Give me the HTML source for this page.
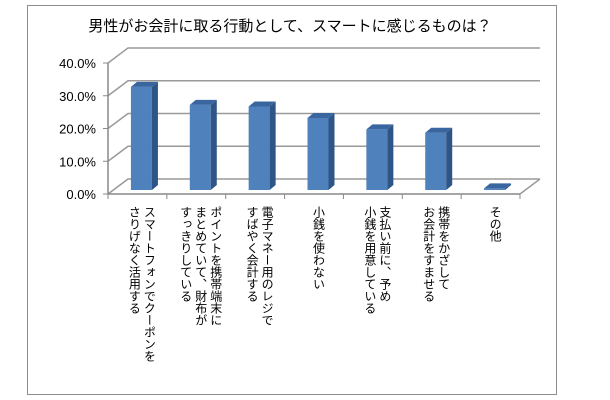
<!DOCTYPE html>
<html><head><meta charset="utf-8"><style>
body{margin:0;background:#fff;width:610px;height:400px;overflow:hidden;font-family:"Liberation Sans","Noto Sans CJK JP",sans-serif}
.frame{position:absolute;left:27px;top:5px;width:530px;height:390px;border:1px solid #8c8c8c;box-sizing:border-box}
.lab{position:absolute;top:206px;writing-mode:vertical-rl;font-size:12px;line-height:15px;color:#000;text-align:left;font-family:"Liberation Sans","Noto Sans CJK JP",sans-serif}
</style></head><body>
<div class="frame"></div>
<svg width="610" height="400" style="position:absolute;left:0;top:0">
<text x="290" y="31" text-anchor="middle" font-size="15" font-family="Liberation Sans, Noto Sans CJK JP, sans-serif">男性がお会計に取る行動として、スマートに感じるものは？</text>
<g id="grid"></g><g id="bars"></g><g id="ticks"></g>
</svg>
<div id="labels"></div>
<script>
const categories=["スマートフォンでクーポンを\nさりげなく活用する","ポイントを携帯端末に\nまとめていて、財布が\nすっきりしている","電子マネー用のレジで\nすばやく会計する","小銭を使わない","支払い前に、予め\n小銭を用意している","携帯をかざして\nお会計をすませる","その他"];
const values=[31.5,26,25.5,22,18.5,17.5,0.5];
const ticks=[0,10,20,30,40];
const tickLabels=["0.0%","10.0%","20.0%","30.0%","40.0%"];
const NS="http://www.w3.org/2000/svg";
const x0=108,y0=194,dx=20,dy=-15,xEnd=520,ppu=131/40;
const y=v=>y0-v*ppu;
const catW=(xEnd-x0)/categories.length;
const cx=i=>x0+catW*(i+0.5);
function mk(t,a,p){const e=document.createElementNS(NS,t);for(const k in a)e.setAttribute(k,a[k]);p.appendChild(e);return e;}
const g=document.getElementById('grid'),b=document.getElementById('bars'),tk=document.getElementById('ticks');
ticks.forEach((t,i)=>{
 const yy=y(t);
 const l=mk('polyline',{points:`${x0},${yy} ${x0+dx},${yy+dy} ${xEnd+dx},${yy+dy}`,fill:'none',stroke:'#9a9a9a','stroke-width':1.5},g);
 
 
 const tx=mk('text',{x:x0-12,y:yy+5,'text-anchor':'end','font-size':13,fill:'#000'},tk);
 tx.textContent=tickLabels[i];
 
 
 mk('line',{x1:x0-5,x2:x0,y1:yy,y2:yy,stroke:'#888'},tk);
});
mk('line',{x1:x0,x2:x0,y1:y(0),y2:y(40),stroke:'#888','stroke-width':1.5},g);
mk('polyline',{points:`${xEnd},${y0} ${xEnd+dx},${y0+dy}`,fill:'none',stroke:'#9a9a9a','stroke-width':1.5},g);
mk('line',{x1:x0,x2:xEnd,y1:y0,y2:y0,stroke:'#888','stroke-width':1.5},g);
for(let i=0;i<=categories.length;i++)mk('line',{x1:x0+catW*i,x2:x0+catW*i,y1:y0,y2:y0+5,stroke:'#888'},tk);
const bw=21,od=7,odx=6,ody=-5;
values.forEach((v,i)=>{
 const bx=cx(i)-bw/2+4,by=y0-4,top=by-v*ppu;
 const grp=mk('g',{},b);
 
 
 mk('rect',{x:bx,y:top,width:bw,height:by-top,fill:'#4f81bd'},grp);
 mk('polygon',{points:`${bx+bw},${top} ${bx+bw+odx},${top+ody} ${bx+bw+odx},${by+ody} ${bx+bw},${by}`,fill:'#2f5486'},grp);
 mk('polygon',{points:`${bx},${top} ${bx+odx},${top+ody} ${bx+bw+odx},${top+ody} ${bx+bw},${top}`,fill:'#3a66a0'},grp);
});
const lb=document.getElementById('labels');
categories.forEach((c,i)=>{
 const d=document.createElement('div');
 d.className='lab';
 
 
 d.innerHTML=c.split('\n').join('<br>');
 lb.appendChild(d);
 const w=d.offsetWidth;
 d.style.left=(cx(i)+4-w/2)+'px';
});
</script>
</body></html>
